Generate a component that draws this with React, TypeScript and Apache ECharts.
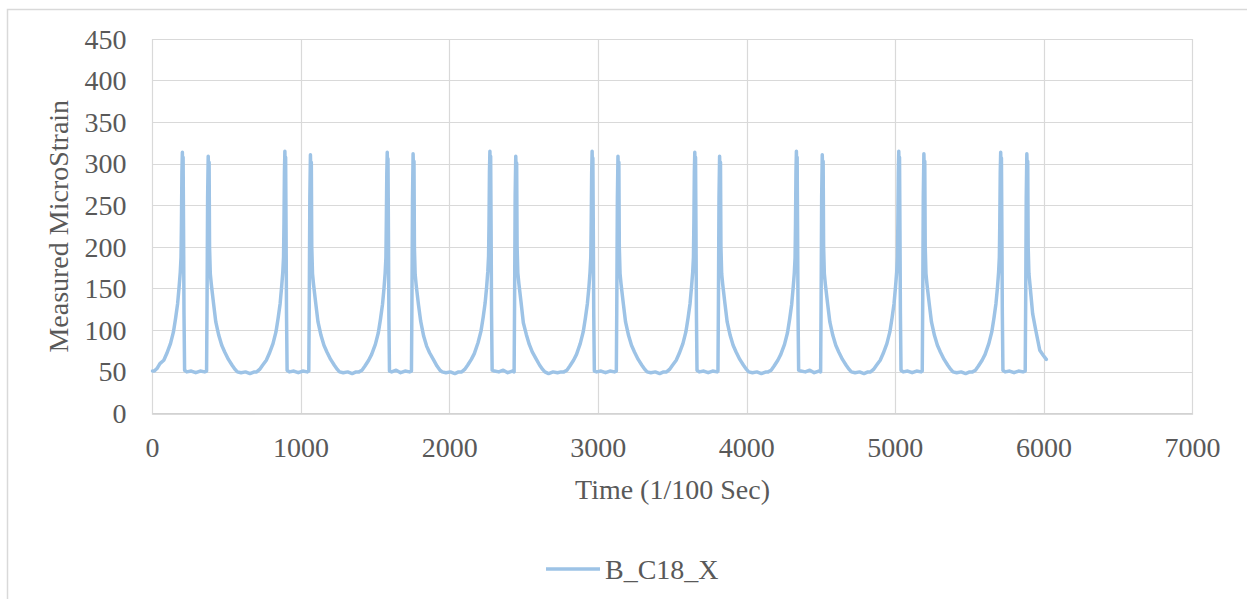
import React, { useEffect, useRef } from "react";
import * as echarts from "echarts";

const seriesName = "B_C18_X";
const xAxisTitle = "Time (1/100 Sec)";
const yAxisTitle = "Measured MicroStrain";

// [time (1/100 s), microstrain], cycle by cycle
const cycle1: number[][] = [
  [0, 51], [12, 51], [30, 54], [50, 60], [76, 64], [96, 72], [121, 84], [141, 98], [156, 115], [169, 132],
  [179, 152], [187, 170], [192, 188], [195, 230], [198, 290], [201, 314], [203, 292], [206, 308], [209, 220],
  [212, 120], [216, 52], [231, 50], [261, 51], [291, 49], [321, 51], [351, 50], [364, 51], [367, 130],
  [371, 260], [375, 309], [378, 288], [381, 302], [384, 200], [389, 168], [396, 155], [411, 132], [426, 110],
  [446, 94], [466, 82], [486, 74], [511, 65], [536, 58], [556, 53], [571, 50], [596, 49], [626, 50], [656, 48], [686, 50],
];
const cycle2: number[][] = [
  [701, 50], [721, 53], [741, 58], [766, 64], [786, 72], [811, 84], [831, 98], [846, 115], [859, 132], [869, 152],
  [877, 170], [882, 188], [885, 230], [888, 290], [891, 315], [893, 292], [896, 308], [899, 220], [902, 120],
  [906, 52], [921, 50], [951, 51], [981, 49], [1011, 51], [1041, 50], [1052, 51], [1055, 130], [1059, 260],
  [1063, 311], [1066, 288], [1069, 302], [1072, 200], [1077, 168], [1084, 155], [1099, 132], [1114, 110],
  [1134, 94], [1154, 82], [1174, 74], [1199, 65], [1224, 58], [1244, 53], [1259, 50], [1284, 49], [1314, 50], [1344, 48], [1370, 50],
];
const cycle3: number[][] = [
  [1390, 50], [1410, 52], [1430, 57], [1455, 64], [1475, 71], [1500, 83], [1520, 97], [1535, 114], [1548, 131],
  [1558, 150], [1566, 169], [1571, 187], [1574, 232], [1577, 288], [1580, 314], [1582, 294], [1585, 306],
  [1588, 218], [1591, 118], [1595, 51], [1610, 50], [1640, 52], [1670, 49], [1700, 51], [1730, 50], [1743, 51],
  [1746, 128], [1750, 258], [1754, 312], [1757, 290], [1760, 303], [1763, 198], [1768, 167], [1775, 154],
  [1790, 131], [1805, 111], [1825, 93], [1845, 81], [1865, 73], [1890, 65], [1915, 57], [1935, 52], [1950, 50],
  [1975, 49], [2005, 50], [2035, 48], [2060, 50],
];
const cycle4: number[][] = [
  [2081, 50], [2101, 53], [2121, 58], [2146, 65], [2166, 72], [2191, 85], [2211, 99], [2226, 116], [2239, 133],
  [2249, 152], [2257, 171], [2262, 189], [2265, 228], [2268, 291], [2271, 315], [2273, 290], [2276, 309],
  [2279, 222], [2282, 121], [2286, 52], [2301, 51], [2331, 50], [2361, 52], [2391, 49], [2421, 51], [2434, 50],
  [2437, 131], [2441, 262], [2445, 309], [2448, 287], [2451, 301], [2454, 201], [2459, 169], [2466, 156],
  [2481, 133], [2496, 109], [2516, 95], [2536, 83], [2556, 74], [2581, 66], [2606, 58], [2626, 53], [2641, 50],
  [2666, 48], [2696, 50], [2726, 49], [2750, 50],
];
const cycle5: number[][] = [
  [2769, 50], [2789, 52], [2809, 57], [2834, 64], [2854, 71], [2879, 84], [2899, 98], [2914, 115], [2927, 132],
  [2937, 151], [2945, 170], [2950, 188], [2953, 231], [2956, 289], [2959, 315], [2961, 293], [2964, 307],
  [2967, 219], [2970, 119], [2974, 51], [2989, 50], [3019, 51], [3049, 49], [3079, 51], [3109, 50], [3122, 51],
  [3125, 129], [3129, 259], [3133, 309], [3136, 289], [3139, 302], [3142, 200], [3147, 168], [3154, 155],
  [3169, 132], [3184, 110], [3204, 94], [3224, 82], [3244, 74], [3269, 65], [3294, 58], [3314, 53], [3329, 50],
  [3354, 49], [3384, 50], [3414, 48], [3440, 50],
];
const cycle6: number[][] = [
  [3460, 50], [3480, 53], [3500, 58], [3525, 64], [3545, 72], [3570, 84], [3590, 98], [3605, 115], [3618, 132],
  [3628, 152], [3636, 170], [3641, 188], [3644, 230], [3647, 290], [3650, 314], [3652, 292], [3655, 308],
  [3658, 220], [3661, 120], [3665, 52], [3680, 50], [3710, 51], [3740, 49], [3770, 51], [3800, 50], [3806, 51],
  [3809, 130], [3813, 260], [3817, 309], [3820, 288], [3823, 302], [3826, 200], [3831, 168], [3838, 155],
  [3853, 132], [3868, 110], [3888, 94], [3908, 82], [3928, 74], [3953, 65], [3978, 58], [3998, 53], [4013, 50],
  [4038, 49], [4068, 50], [4098, 48], [4130, 50],
];
const cycle7: number[][] = [
  [4144, 50], [4164, 52], [4184, 57], [4209, 64], [4229, 71], [4254, 83], [4274, 97], [4289, 114], [4302, 131],
  [4312, 151], [4320, 169], [4325, 187], [4328, 229], [4331, 290], [4334, 315], [4336, 291], [4339, 308],
  [4342, 221], [4345, 120], [4349, 52], [4364, 51], [4394, 50], [4424, 52], [4454, 49], [4484, 51], [4497, 50],
  [4500, 130], [4504, 261], [4508, 311], [4511, 289], [4514, 303], [4517, 201], [4522, 168], [4529, 155],
  [4544, 132], [4559, 110], [4579, 94], [4599, 82], [4619, 74], [4644, 65], [4669, 58], [4689, 53], [4704, 50],
  [4729, 49], [4759, 50], [4789, 48], [4815, 50],
];
const cycle8: number[][] = [
  [4833, 50], [4853, 53], [4873, 58], [4898, 64], [4918, 72], [4943, 84], [4963, 98], [4978, 115], [4991, 132],
  [5001, 152], [5009, 170], [5014, 188], [5017, 230], [5020, 290], [5023, 315], [5025, 292], [5028, 308],
  [5031, 220], [5034, 120], [5038, 52], [5053, 50], [5083, 51], [5113, 49], [5143, 51], [5173, 50], [5181, 51],
  [5184, 130], [5188, 260], [5192, 312], [5195, 290], [5198, 303], [5201, 200], [5206, 168], [5213, 155],
  [5228, 132], [5243, 110], [5263, 94], [5283, 82], [5303, 74], [5328, 65], [5353, 58], [5373, 53], [5388, 50],
  [5413, 49], [5443, 50], [5473, 48], [5500, 50],
];
const cycle9: number[][] = [
  [5519, 50], [5539, 52], [5559, 57], [5584, 64], [5604, 71], [5629, 84], [5649, 98], [5664, 115], [5677, 132],
  [5687, 151], [5695, 170], [5700, 188], [5703, 230], [5706, 290], [5709, 314], [5711, 292], [5714, 307],
  [5717, 220], [5720, 120], [5724, 52], [5739, 50], [5769, 51], [5799, 49], [5829, 51], [5859, 50], [5874, 51],
  [5877, 130], [5881, 260], [5885, 312], [5888, 290], [5891, 303], [5894, 200], [5899, 168], [5906, 155],
  [5924, 120], [5945, 100], [5972, 76], [5995, 70], [6016, 65],
];

const allCycles = [cycle1, cycle2, cycle3, cycle4, cycle5, cycle6, cycle7, cycle8, cycle9];

export default function App() {
  const ref = useRef<HTMLDivElement>(null);

  useEffect(() => {
    document.body.style.margin = "0";
    const chart = echarts.init(ref.current as HTMLDivElement, null, { renderer: "svg" });
    const data = allCycles.reduce((acc: number[][], c) => acc.concat(c), []);
    const font = "'Liberation Serif', 'Times New Roman', serif";
    const textColor = "#595959";
    chart.setOption({
      animation: false,
      backgroundColor: "#ffffff",
      graphic: [
        {
          type: "rect",
          shape: { x: 7.5, y: 9.5, width: 1400, height: 800 },
          style: { fill: "none", stroke: "#D9D9D9", lineWidth: 1.5 },
          silent: true,
        },
      ],
      grid: { left: 152.5, right: 54.5, top: 39, bottom: 185.5, containLabel: false },
      legend: {
        show: true,
        left: 541,
        top: 550,
        itemWidth: 54,
        itemHeight: 14,
        itemGap: 10,
        icon: "path://M0,0 L54,0 L54,3.5 L0,3.5 Z",
        data: [seriesName],
        textStyle: { fontFamily: font, fontSize: 28, color: textColor },
      },
      xAxis: {
        type: "value",
        min: 0,
        max: 7000,
        interval: 1000,
        name: xAxisTitle,
        nameLocation: "middle",
        nameGap: 62,
        nameTextStyle: { fontFamily: font, fontSize: 28, color: textColor },
        axisLine: { show: true, onZero: false, lineStyle: { color: "#D0D0D0", width: 1.5 } },
        axisTick: { show: false },
        axisLabel: {
          margin: 20,
          fontFamily: font,
          fontSize: 28,
          color: textColor,
          formatter: (v: number) => String(v),
        },
        splitLine: { show: true, lineStyle: { color: "#D9D9D9", width: 1.2 } },
      },
      yAxis: {
        type: "value",
        min: 0,
        max: 450,
        interval: 50,
        name: yAxisTitle,
        nameLocation: "middle",
        nameRotate: 90,
        nameGap: 80,
        nameTextStyle: { fontFamily: font, fontSize: 28, color: textColor },
        axisLine: { show: false },
        axisTick: { show: false },
        axisLabel: {
          margin: 26,
          fontFamily: font,
          fontSize: 28,
          color: textColor,
          formatter: (v: number) => String(v),
        },
        splitLine: { show: true, lineStyle: { color: "#D9D9D9", width: 1.2 } },
      },
      series: [
        {
          name: seriesName,
          type: "line",
          data,
          symbol: "none",
          showSymbol: false,
          lineStyle: { color: "#9DC3E6", width: 3.5, join: "round", cap: "round" },
          itemStyle: { color: "#9DC3E6" },
          emphasis: { disabled: true },
        },
      ],
    });
    return () => chart.dispose();
  }, []);

  return <div ref={ref} style={{ width: 1247, height: 599 }} />;
}
